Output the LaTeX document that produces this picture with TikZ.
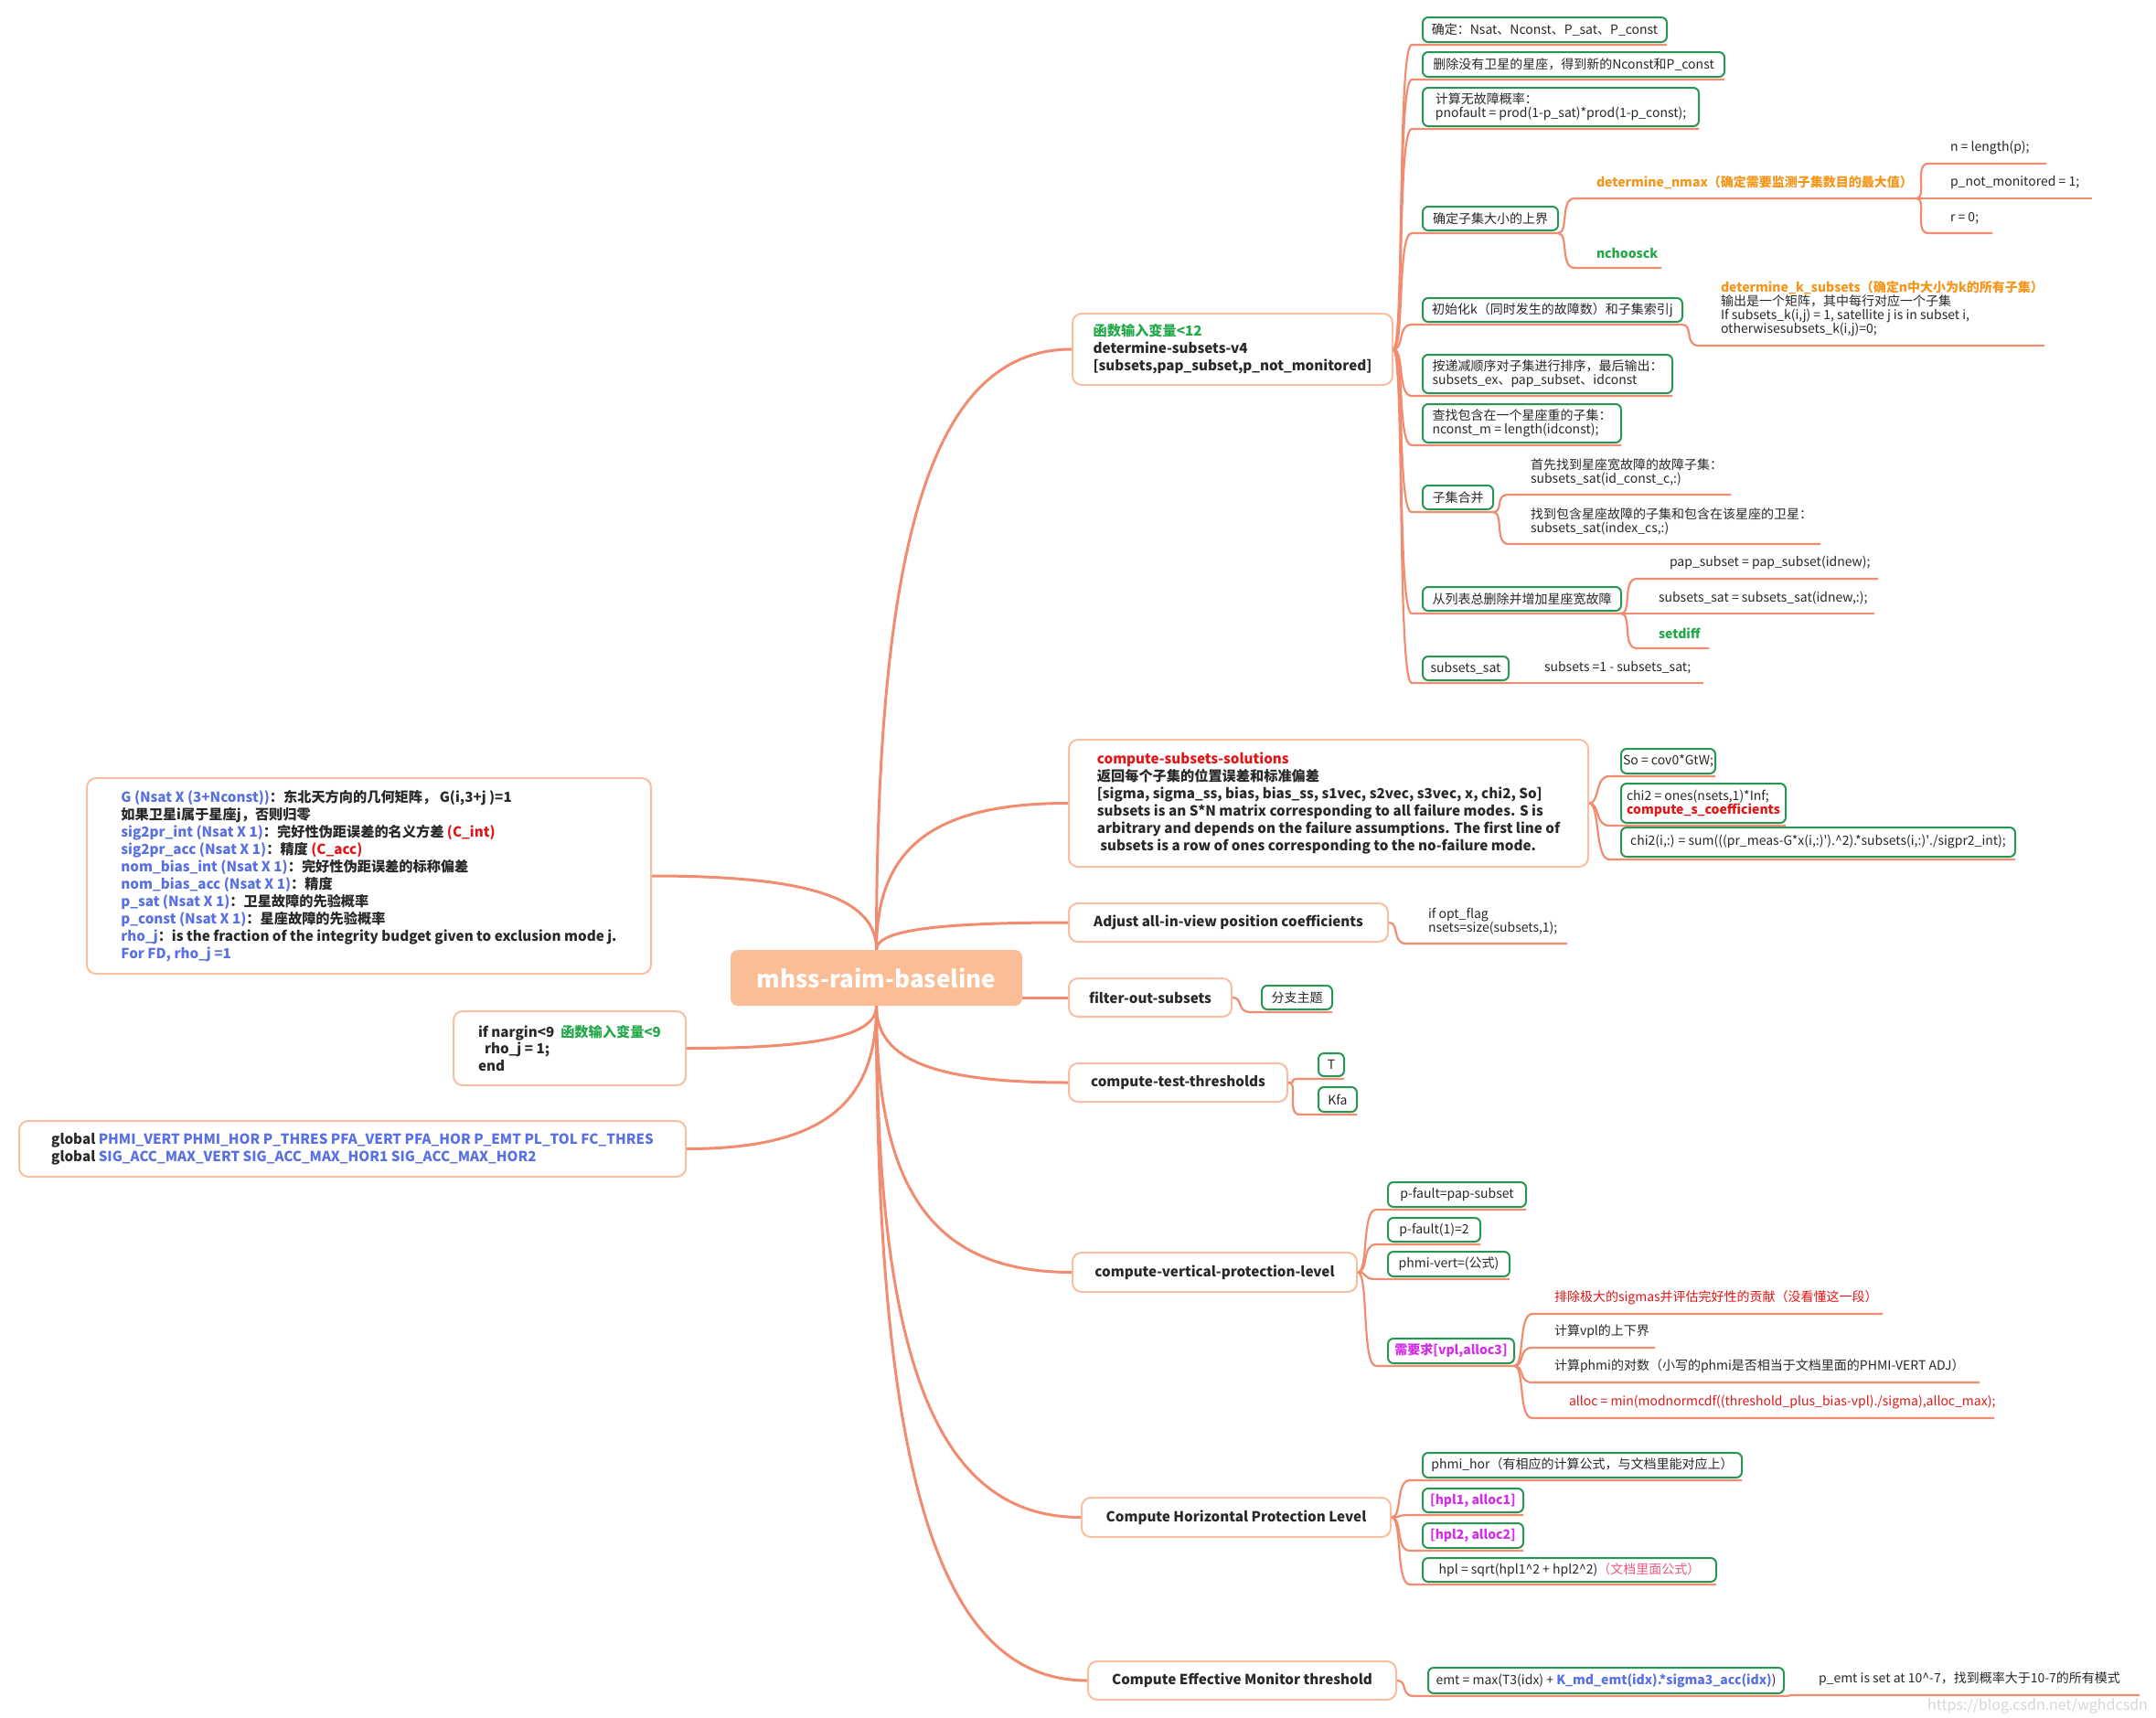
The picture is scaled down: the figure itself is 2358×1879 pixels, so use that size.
\documentclass[tikz,border=0pt]{standalone}
\usepackage{fontspec}
\setmainfont{Noto Sans CJK SC}
\usetikzlibrary{calc}

\definecolor{linec}{RGB}{242,140,112}
\definecolor{topicc}{RGB}{248,190,160}
\definecolor{rootc}{RGB}{251,189,150}
\definecolor{leafc}{RGB}{38,152,84}
\definecolor{txtc}{RGB}{40,40,40}
\definecolor{bluec}{RGB}{88,112,226}
\definecolor{redc}{RGB}{226,22,22}
\definecolor{orangec}{RGB}{245,150,28}
\definecolor{greenc}{RGB}{34,168,72}
\definecolor{magc}{RGB}{212,46,232}
\definecolor{pinkc}{RGB}{236,88,122}
\definecolor{wmc}{RGB}{215,215,215}

\newcommand{\cblue}[1]{\textcolor{bluec}{#1}}
\newcommand{\cred}[1]{\textcolor{redc}{#1}}
\newcommand{\corange}[1]{\textcolor{orangec}{#1}}
\newcommand{\cgreen}[1]{\textcolor{greenc}{#1}}
\newcommand{\cmag}[1]{\textcolor{magc}{#1}}
\newcommand{\cpink}[1]{\textcolor{pinkc}{#1}}

\tikzset{
  rootbox/.style={fill=rootc, rounded corners=4pt, text=white,
    font=\fontsize{13}{15}\selectfont\bfseries, minimum width=159.5pt, minimum height=30.5pt},
  topic/.style={draw=topicc, line width=1pt, rounded corners=5pt, fill=white, text=txtc,
    font=\fontsize{7.6}{9.5}\selectfont\bfseries, align=left, anchor=west},
  leafbox/.style={draw=leafc, line width=1pt, rounded corners=3pt, fill=white, text=txtc,
    font=\fontsize{7}{7.5}\selectfont, align=left, anchor=west, inner sep=1pt,
    outer xsep=0pt, outer ysep=1.5pt},
  leaf/.style={text=txtc, font=\fontsize{7}{7.5}\selectfont, align=left, anchor=south west,
    inner xsep=12pt, inner ysep=5pt, outer sep=0pt},
  branch/.style={draw=linec, line width=1.5pt},
  twig/.style={draw=linec, line width=1.1pt},
  corner/.style={to path={.. controls ($(\tikztostart)!0.7!(\tikztostart |- \tikztotarget)$)
    and ($(\tikztotarget)!0.7!(\tikztostart |- \tikztotarget)$) .. (\tikztotarget)}},
  fork/.style={to path={.. controls +(12,0) and +(-16,0) .. (\tikztotarget)}},
  bw/.style={minimum width=#1*0.5pt},
  bh/.style={minimum height=#1*0.5pt}
}

\begin{document}
\begin{tikzpicture}[x=0.5pt, y=-0.5pt]
\fill[white] (0,0) rectangle (2358,1879);
\useasboundingbox (0,0) rectangle (2358,1879);

% root
\node[rootbox] (root) at (958.5,1069.5) {mhss-raim-baseline};

% main topics
\node[topic, bw=350, bh=78] (sub) at (1172,382)
  {\cgreen{函数输入变量<12}\\determine-subsets-v4\\{}[subsets,pap\_subset,p\_not\_monitored]};
\node[topic, bw=568, bh=139] (sol) at (1168,878.5)
  {\cred{compute-subsets-solutions}\\返回每个子集的位置误差和标准偏差\\{}[sigma, sigma\_ss, bias, bias\_ss, s1vec, s2vec, s3vec, x, chi2, So]\\subsets is an S*N matrix corresponding to all failure modes. S is\\arbitrary and depends on the failure assumptions. The first line of\\\ subsets is a row of ones corresponding to the no-failure mode.};
\node[topic, bw=349, bh=42] (adj) at (1168,1009) {Adjust all-in-view position coefficients};
\node[topic, bw=178, bh=42] (filt) at (1168,1091) {filter-out-subsets};
\node[topic, bw=239, bh=42] (thr) at (1168,1184) {compute-test-thresholds};
\node[topic, bw=311, bh=43] (vpl) at (1172,1391.5) {compute-vertical-protection-level};
\node[topic, bw=338, bh=43] (hpl) at (1182,1659.5) {Compute Horizontal Protection Level};
\node[topic, bw=337, bh=42] (emt) at (1189,1838) {Compute Effective Monitor threshold};

\node[topic, bw=617, bh=214] (inp) at (94,958)
  {\cblue{G (Nsat X (3+Nconst))}：东北天方向的几何矩阵，\ G(i,3+j )=1\\
   如果卫星i属于星座j，否则归零\\
   \cblue{sig2pr\_int (Nsat X 1)}：完好性伪距误差的名义方差\ \cred{(C\_int)}\\
   \cblue{sig2pr\_acc (Nsat X 1)}：精度\ \cred{(C\_acc)}\\
   \cblue{nom\_bias\_int (Nsat X 1)}：完好性伪距误差的标称偏差\\
   \cblue{nom\_bias\_acc (Nsat X 1)}：精度\\
   \cblue{p\_sat (Nsat X 1)}：卫星故障的先验概率\\
   \cblue{p\_const (Nsat X 1)}：星座故障的先验概率\\
   \cblue{rho\_j}：is the fraction of the integrity budget given to exclusion mode j.\\
   \cblue{For FD, rho\_j =1}};
\node[topic, bw=254, bh=81] (narg) at (495,1146.5)
  {if nargin<9\ \ \cgreen{函数输入变量<9}\\\ \ rho\_j = 1;\\end};
\node[topic, bw=729, bh=61] (glob) at (20,1256.5)
  {global \cblue{PHMI\_VERT PHMI\_HOR P\_THRES PFA\_VERT PFA\_HOR P\_EMT PL\_TOL FC\_THRES}\\
   global \cblue{SIG\_ACC\_MAX\_VERT SIG\_ACC\_MAX\_HOR1 SIG\_ACC\_MAX\_HOR2}};

% determine-subsets
\node[leafbox, bw=267, bh=27] (det) at (1556,32.5) {确定：Nsat、Nconst、P\_sat、P\_const};
\node[leafbox, bw=330, bh=27] (del) at (1556,70.5) {删除没有卫星的星座，得到新的Nconst和P\_const};
\node[leafbox, bw=302, bh=42] (pnf) at (1556,117) {计算无故障概率：\\pnofault = prod(1-p\_sat)*prod(1-p\_const);};
\node[leafbox, bw=148, bh=26] (ub) at (1556,239) {确定子集大小的上界};
\node[leaf] (nmax) at (1722,217) {\corange{\bfseries determine\_nmax（确定需要监测子集数目的最大值）}};
\coordinate (nmax-e) at (2096,217);
\node[leaf] (nlen) at (2109,179) {n = length(p);};
\coordinate (nlen-e) at (2238,179);
\node[leaf] (pnm) at (2109,217) {p\_not\_monitored = 1;};
\coordinate (pnm-e) at (2288,217);
\node[leaf] (rz) at (2109,255) {r = 0;};
\coordinate (rz-e) at (2179,255);
\node[leaf] (nck) at (1722,293) {\cgreen{\bfseries nchoosck}};
\coordinate (nck-e) at (1817,293);
\node[leafbox, bw=284, bh=26] (ini) at (1556,339) {初始化k（同时发生的故障数）和子集索引j};
\node[leaf] (ksub) at (1858,378)
  {\corange{\bfseries determine\_k\_subsets（确定n中大小为k的所有子集）}\\输出是一个矩阵，其中每行对应一个子集\\If subsets\_k(i,j) = 1, satellite j is in subset i,\\otherwisesubsets\_k(i,j)=0;};
\coordinate (ksub-e) at (2236,378);
\node[leafbox, bw=273, bh=42] (srt) at (1556,409) {按递减顺序对子集进行排序，最后输出：\\subsets\_ex、pap\_subset、idconst};
\node[leafbox, bw=217, bh=42] (fnd) at (1556,463) {查找包含在一个星座重的子集：\\nconst\_m = length(idconst);};
\node[leafbox, bw=77, bh=26] (mrg) at (1556,544) {子集合并};
\node[leaf] (mrga) at (1650,541) {首先找到星座宽故障的故障子集：\\subsets\_sat(id\_const\_c,:)};
\coordinate (mrga-e) at (1893,541);
\node[leaf] (mrgb) at (1650,595) {找到包含星座故障的子集和包含在该星座的卫星：\\subsets\_sat(index\_cs,:)};
\coordinate (mrgb-e) at (1991,595);
\node[leafbox, bw=217, bh=26] (rmv) at (1556,655) {从列表总删除并增加星座宽故障};
\node[leaf, inner xsep=18pt] (rmva) at (1790,633) {pap\_subset = pap\_subset(idnew);};
\coordinate (rmva-e) at (2054,633);
\node[leaf] (rmvb) at (1790,671) {subsets\_sat = subsets\_sat(idnew,:);};
\coordinate (rmvb-e) at (2050,671);
\node[leaf] (rmvc) at (1790,709) {\cgreen{\bfseries setdiff}};
\coordinate (rmvc-e) at (1869,709);
\node[leafbox, bw=94, bh=26] (sat) at (1556,731) {subsets\_sat};
\node[leaf] (sata) at (1665,747) {subsets =1 - subsets\_sat;};
\coordinate (sata-e) at (1863,747);

% compute-subsets-solutions
\node[leafbox, bw=103, bh=27] (so) at (1773,832.5) {So = cov0*GtW;};
\node[leafbox, bw=180, bh=43] (chi) at (1773,878.5) {chi2 = ones(nsets,1)*Inf;\\\cred{\bfseries compute\_s\_coefficients}};
\node[leafbox, bw=431, bh=32] (chis) at (1773,921)
  {chi2(i,:) = sum(((pr\_meas-G*x(i,:)\textquotesingle).\textasciicircum 2).*subsets(i,:)\textquotesingle./sigpr2\_int);};

% small topics
\node[leaf] (opt) at (1538,1032) {if opt\_flag\\nsets=size(subsets,1);};
\coordinate (opt-e) at (1714,1032);
\node[leafbox, bw=77, bh=26] (fzt) at (1380,1091) {分支主题};
\node[leafbox, bw=28, bh=25] (tt) at (1442,1164.5) {T};
\node[leafbox, bw=42, bh=27] (kfa) at (1442,1202.5) {Kfa};

% vertical protection level
\node[leafbox, bw=151, bh=27] (pf) at (1518,1306.5) {p-fault=pap-subset};
\node[leafbox, bw=101, bh=26] (pf1) at (1518,1345) {p-fault(1)=2};
\node[leafbox, bw=133, bh=27] (phv) at (1518,1382.5) {phmi-vert=(公式)};
\node[leafbox, bw=138, bh=27] (need) at (1518,1477.5) {\cmag{\bfseries 需要求[vpl,alloc3]}};
\node[leaf] (exc) at (1676,1437) {\cred{排除极大的sigmas并评估完好性的贡献（没看懂这一段）}};
\coordinate (exc-e) at (2059,1437);
\node[leaf] (bnd) at (1676,1474) {计算vpl的上下界};
\coordinate (bnd-e) at (1810,1474);
\node[leaf] (lg) at (1676,1512) {计算phmi的对数（小写的phmi是否相当于文档里面的PHMI-VERT ADJ）};
\coordinate (lg-e) at (2165,1512);
\node[leaf, inner xsep=20pt] (alc) at (1676,1551) {\cred{alloc = min(modnormcdf((threshold\_plus\_bias-vpl)./sigma),alloc\_max);}};
\coordinate (alc-e) at (2181,1551);

% horizontal protection level
\node[leafbox, bw=349, bh=27] (phh) at (1556,1602.5) {phmi\_hor（有相应的计算公式，与文档里能对应上）};
\node[leafbox, bw=110, bh=26] (hp1) at (1556,1641) {\cmag{\bfseries [hpl1, alloc1]}};
\node[leafbox, bw=110, bh=27] (hp2) at (1556,1679.5) {\cmag{\bfseries [hpl2, alloc2]}};
\node[leafbox, bw=321, bh=26] (hps) at (1556,1717) {hpl = sqrt(hpl1\textasciicircum 2 + hpl2\textasciicircum 2)\cpink{（文档里面公式）}};

% effective monitor threshold
\node[leafbox, bw=389, bh=28] (emf) at (1562,1838) {emt = max(T3(idx) + \cblue{\bfseries K\_md\_emt(idx).*sigma3\_acc(idx)})};
\node[leaf] (pemt) at (1965,1854) {p\_emt is set at 10\textasciicircum -7，找到概率大于10-7的所有模式};
\coordinate (pemt-e) at (2340,1854);

\node[text=wmc, font=\fontsize{8}{9}\selectfont, anchor=east] (wm) at (2356,1866) {https://blog.csdn.net/wghdcsdn};

% branches from root
\foreach \t in {sub,sol,adj}
  \draw[branch] (root.north) to[corner] (\t.west);
\draw[branch] (root.east |- filt.west) -- (filt.west);
\foreach \t in {thr,vpl,hpl,emt}
  \draw[branch] (root.south) to[corner] (\t.west);
\draw[branch] (root.north) to[corner] (inp.east);
\foreach \t in {narg,glob}
  \draw[branch] (root.south) to[corner] (\t.east);

% twigs to boxed leaves
\foreach \c in {det,del,pnf,ub,ini,srt,fnd,mrg,rmv,sat}
  \draw[twig] (sub.east) to[fork] ([xshift=-6pt]\c.south west) -- (\c.south east);
\foreach \c in {so,chi,chis}
  \draw[twig] (sol.east) to[fork] ([xshift=-6.5pt]\c.south west) -- (\c.south east);
\draw[twig] (filt.east) to[fork] ([xshift=-6pt]fzt.south west) -- (fzt.south east);
\foreach \c in {tt,kfa}
  \draw[twig] (thr.east) to[fork] ([xshift=-10pt]\c.south west) -- (\c.south east);
\foreach \c in {pf,pf1,phv,need}
  \draw[twig] (vpl.east) to[fork] ([xshift=-6.5pt]\c.south west) -- (\c.south east);
\foreach \c in {phh,hp1,hp2,hps}
  \draw[twig] (hpl.east) to[fork] ([xshift=-7pt]\c.south west) -- (\c.south east);
\draw[twig] (emt.east) to[fork] ([xshift=-7.5pt]emf.south west) -- (emf.south east);

% twigs to text leaves
\foreach \p/\c in {ub.south east/nmax, ub.south east/nck, nmax-e/nlen, nmax-e/pnm, nmax-e/rz,
    ini.south east/ksub, mrg.south east/mrga, mrg.south east/mrgb,
    rmv.south east/rmva, rmv.south east/rmvb, rmv.south east/rmvc, sat.south east/sata,
    adj.east/opt, need.south east/exc, need.south east/bnd, need.south east/lg,
    need.south east/alc, emf.south east/pemt}
  \draw[twig] (\p) to[fork] (\c.south west) -- (\c-e);
\end{tikzpicture}
\end{document}
